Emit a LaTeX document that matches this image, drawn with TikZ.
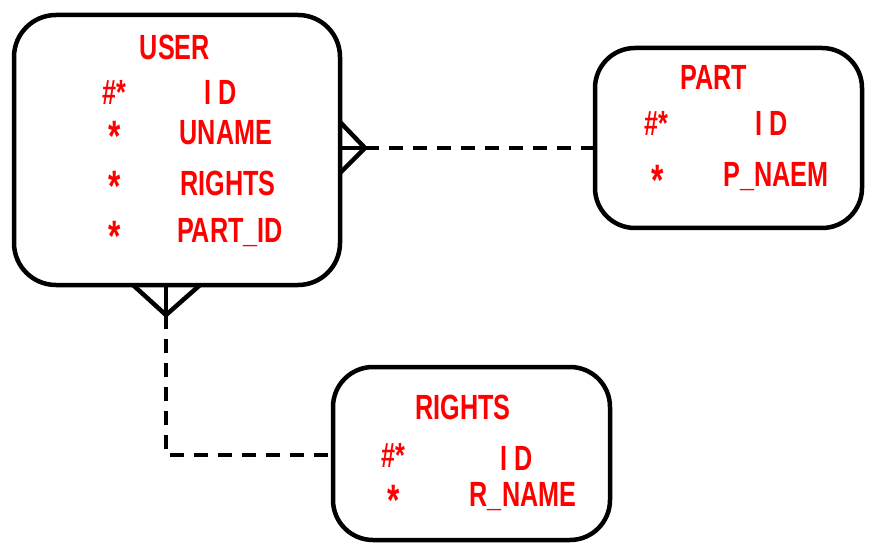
\documentclass[tikz,border=0pt]{standalone}
\usepackage{fontspec}
\setmainfont{Liberation Sans}[FakeStretch=0.72]
\usetikzlibrary{calc}
\tikzset{
  entity/.style={draw=black, line width=4.5pt, rounded corners=42pt, fill=white},
  lbl/.style={text=red, font=\bfseries\fontsize{35}{40}\selectfont, inner sep=0pt, anchor=center},
  star/.style={text=red, font=\bfseries\fontsize{44}{48}\selectfont, inner sep=0pt, anchor=north},
  rel/.style={line width=4.5pt, dash pattern=on 14pt off 10pt},
  foot/.style={line width=4.5pt}
}
\begin{document}
\begin{tikzpicture}[x=1pt,y=-1pt]
\useasboundingbox (0,0) rectangle (872,545);
% boxes
\node[entity, minimum width=326pt, minimum height=270pt] (user) at (177,150) {};
\node[entity, minimum width=267pt, minimum height=180pt, rounded corners=40pt] (part) at (728.5,138) {};
\node[entity, minimum width=277pt, minimum height=173pt, rounded corners=40pt] (rights) at (471.5,453.5) {};
% USER text
\node[lbl] (uT) at (175,47) {USER};
\node[lbl] (u1a) at (114,92) {\#*};
\node[lbl] (u1b) at (221,92) {I D};
\node[star] (u2a) at (115,121) {*};
\node[lbl] (u2b) at (226,133) {UNAME};
\node[star] (u3a) at (115,171) {*};
\node[lbl] (u3b) at (228,183) {RIGHTS};
\node[star] (u4a) at (115,221) {*};
\node[lbl] (u4b) at (230,233) {PART\_ID};
% PART text
\node[lbl] (pT) at (714,77) {PART};
\node[lbl] (p1a) at (656,123) {\#*};
\node[lbl] (p1b) at (772,123) {I D};
\node[star] (p2a) at (658,165) {*};
\node[lbl] (p2b) at (776,177) {P\_NAEM};
% RIGHTS text
\node[lbl] (rT) at (463,407) {RIGHTS};
\node[lbl] (r1a) at (393,455) {\#*};
\node[lbl] (r1b) at (517,458) {I D};
\node[star] (r2a) at (394,485) {*};
\node[lbl] (r2b) at (523,497) {R\_NAME};
% connector USER - PART
\coordinate (ua) at (340,148);
\coordinate (uf) at (365,148);
\draw[foot] (340,122) -- (uf) -- (340,173);
\draw[foot] (ua) -- (uf);
\draw[rel] (uf) -- (part.west |- uf);
% connector USER - RIGHTS
\coordinate (ub) at (166,285);
\coordinate (uf2) at (166,315);
\coordinate (corner) at (166,455);
\draw[foot] (133,285) -- (uf2) -- (200,285);
\draw[foot] (ub) -- (uf2);
\draw[rel] (uf2) -- (corner) -- (rights.west |- corner);
\end{tikzpicture}
\end{document}
